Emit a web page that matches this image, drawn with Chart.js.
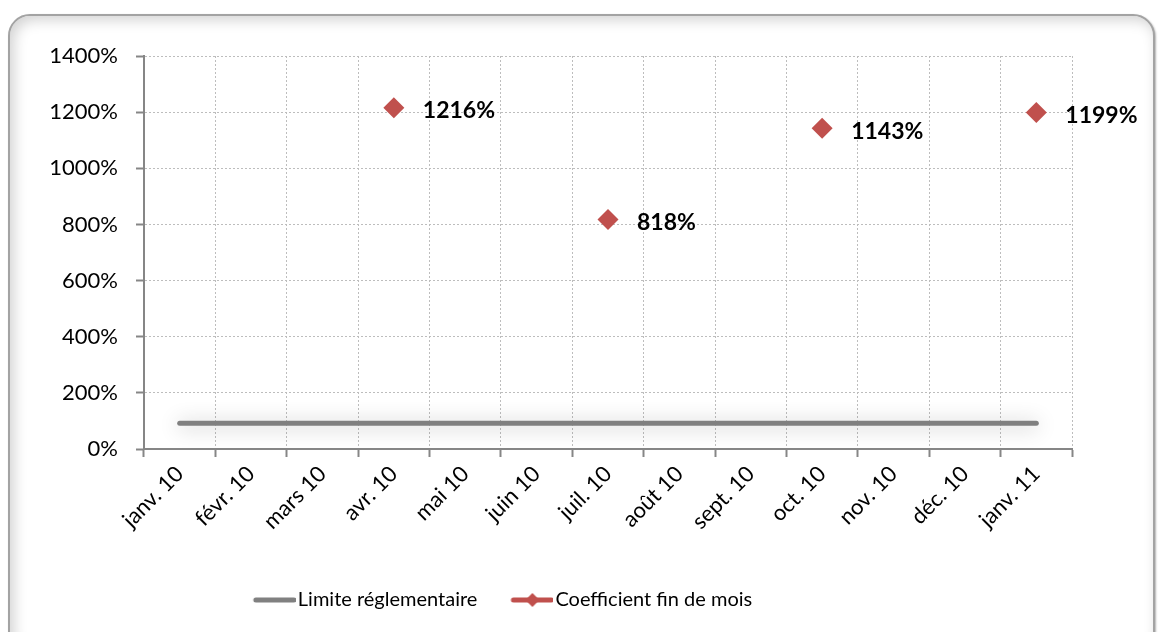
<!DOCTYPE html>
<html>
<head>
<meta charset="utf-8">
<script src="https://cdn.jsdelivr.net/npm/chart.js@4/dist/chart.umd.min.js"></script>
<style>
  body { margin: 0; background: #fff; }
  #frame {
    position: absolute; left: 8px; top: 14px; width: 1147px; height: 640px;
    border: 2px solid #a3a3a3; border-radius: 22px; box-sizing: border-box;
    box-shadow: inset 4px 4px 14px rgba(0,0,0,0.18), 1px 1px 2px rgba(0,0,0,0.3);
    background: #fff;
  }
  #wrap { position: absolute; left: 0; top: 0; width: 1161px; height: 632px; }
</style>
</head>
<body>
<div id="frame"></div>
<div id="wrap"><canvas id="myChart" width="1161" height="632"></canvas></div>
<script>
var mois = ['janv. 10', 'févr. 10', 'mars 10', 'avr. 10', 'mai 10', 'juin 10', 'juil. 10', 'août 10', 'sept. 10', 'oct. 10', 'nov. 10', 'déc. 10', 'janv. 11']
var limite = [92, 92, 92, 92, 92, 92, 92, 92, 92, 92, 92, 92, 92]
var coefficient = [null, null, null, 1216, null, null, 818, null, null, 1143, null, null, 1199]
var yTicks = [0, 200, 400, 600, 800, 1000, 1200, 1400]

var police = 'Lato, "Open Sans", sans-serif'
var gris = '#808080'
var rouge = '#C0504D'

// petites images pour la legende
function iconeLigne(avecLosange) {
  var c = document.createElement('canvas')
  c.width = 48; c.height = 16
  var g = c.getContext('2d')
  g.strokeStyle = avecLosange ? rouge : gris
  g.lineWidth = 5
  g.lineCap = 'round'
  g.beginPath(); g.moveTo(8, 8); g.lineTo(46, 8); g.stroke()
  if (avecLosange) {
    g.fillStyle = rouge
    g.beginPath(); g.moveTo(27, 1); g.lineTo(34, 8); g.lineTo(27, 15); g.lineTo(20, 8); g.closePath(); g.fill()
  }
  return c
}
var icones = [iconeLigne(false), iconeLigne(true)]

// ombre sous la ligne grise
var ombre = {
  id: 'ombre',
  beforeDatasetDraw: function(chart, args) {
    if (args.index === 0) {
      chart.ctx.save()
      chart.ctx.shadowColor = 'rgba(0,0,0,0.3)'
      chart.ctx.shadowBlur = 20
      chart.ctx.shadowOffsetY = 2
    }
  },
  afterDatasetDraw: function(chart, args) {
    if (args.index === 0) chart.ctx.restore()
  }
}

// decale la legende vers la gauche
var decale = {
  id: 'decale',
  afterLayout: function(chart) {
    chart.legend.left -= 32
    chart.legend.right -= 32
  }
}

// etiquettes des valeurs
var etiquettes = {
  id: 'etiquettes',
  afterDatasetsDraw: function(chart) {
    var ctx = chart.ctx
    var meta = chart.getDatasetMeta(1)
    ctx.save()
    ctx.font = 'bold 23px ' + police
    ctx.fillStyle = '#000'
    ctx.textAlign = 'left'
    ctx.textBaseline = 'middle'
    meta.data.forEach(function(pt, i) {
      var v = coefficient[i]
      if (v === null) return
      ctx.fillText(v + '%', pt.x + 29, pt.y + 3)
    })
    ctx.restore()
  }
}

var ctx = document.getElementById('myChart').getContext('2d')
var chart = new Chart(ctx, {
  type: 'line',
  data: {
    labels: mois,
    datasets: [{
      label: 'Limite réglementaire',
      data: limite,
      borderColor: gris,
      backgroundColor: gris,
      borderWidth: 5,
      borderCapStyle: 'round',
      pointRadius: 0,
      pointHoverRadius: 0,
      tension: 0
    }, {
      label: 'Coefficient fin de mois',
      data: coefficient,
      borderColor: rouge,
      backgroundColor: rouge,
      showLine: false,
      pointStyle: 'rectRot',
      pointRadius: 10.5,
      pointBorderWidth: 0
    }]
  },
  options: {
    responsive: false,
    animation: false,
    layout: { padding: { left: 0, right: 89, top: 56, bottom: 12 } },
    plugins: {
      tooltip: { enabled: false },
      legend: {
        position: 'bottom',
        labels: {
          usePointStyle: true,
          pointStyleWidth: 32,
          padding: 36,
          color: '#000',
          font: { family: police, size: 20 },
          generateLabels: function(chart) {
            return chart.data.datasets.map(function(ds, i) {
              return { text: ds.label, pointStyle: icones[i], fillStyle: ds.borderColor, strokeStyle: ds.borderColor, lineWidth: 0, datasetIndex: i, hidden: false }
            })
          }
        }
      }
    },
    scales: {
      x: {
        offset: true,
        grid: { color: '#bdbdbd', tickColor: '#868686', tickBorderDash: [], tickLength: 8, tickWidth: 2, offset: true },
        border: { color: '#868686', width: 2, dash: [2, 2] },
        ticks: { color: '#000', font: { family: police, size: 22 }, maxRotation: 45, minRotation: 45, padding: 4 },
        afterFit: function(s) { s.height = 105 }
      },
      y: {
        min: 0,
        max: 1400,
        afterBuildTicks: function(s) { s.ticks = yTicks.map(function(v) { return { value: v } }) },
        grid: { color: '#bdbdbd', tickColor: '#868686', tickBorderDash: [], tickLength: 8, tickWidth: 2 },
        border: { color: '#868686', width: 2, dash: [2, 2] },
        ticks: { color: '#000', font: { family: police, size: 22 }, padding: 18, callback: function(v) { return v + '%' } },
        afterFit: function(s) { s.width = 144 }
      }
    }
  },
  plugins: [ombre, etiquettes, decale]
})
</script>
</body>
</html>
